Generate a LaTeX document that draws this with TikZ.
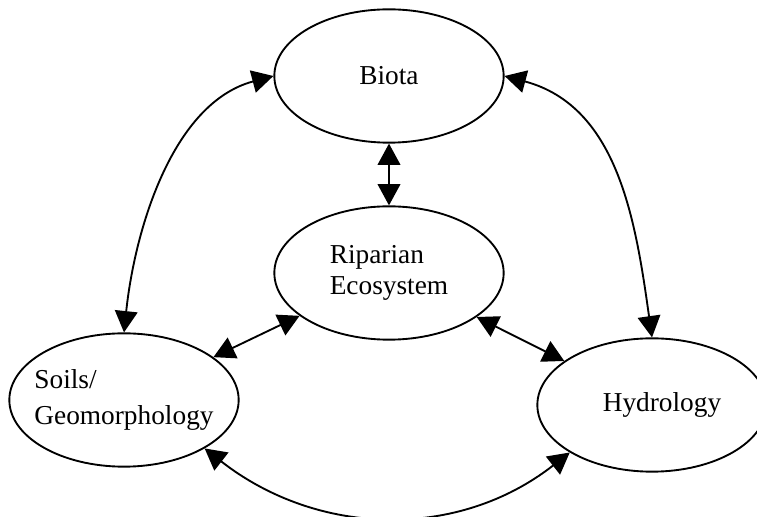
\documentclass[tikz,border=0pt]{standalone}
\usepackage{fontspec}
\setmainfont{Liberation Serif}
\usetikzlibrary{arrows.meta,shapes.geometric}

\begin{document}
\begin{tikzpicture}[x=0.75pt, y=0.75pt, >={Triangle[length=16pt,width=17pt]},
  eco/.style={ellipse, draw, line width=1.4pt, minimum width=172pt, minimum height=100pt,
    inner sep=0pt, align=left, font=\fontsize{20.5}{23}\selectfont},
  link/.style={<->, line width=1.4pt}]
\useasboundingbox (0,0) rectangle (757,517);

% The four parts of the system
\node [eco] (biota) at (389,441) {Biota};
\node [eco] (ripar) at (389,244) {Riparian\\Ecosystem};
\node [eco, inner xsep=-8pt] (soils) at (124,117) {Soils/\\[3.5pt]Geomorphology};
\node [eco] (hydro) at (652,112) {\hspace*{15pt}Hydrology};

% Links between them
\draw [link] (biota) -- (ripar);
\draw [link] (ripar) -- (soils);
\draw [link] (ripar) -- (hydro);
\draw [link] (soils.north) to[out=84, in=195, looseness=0.9] (biota.west);
\draw [link] (biota.east) to[out=-15, in=98] (hydro.north);
\draw [link] (soils.-31) to[out=-38, in=-142] (hydro.210);
\end{tikzpicture}
\end{document}
